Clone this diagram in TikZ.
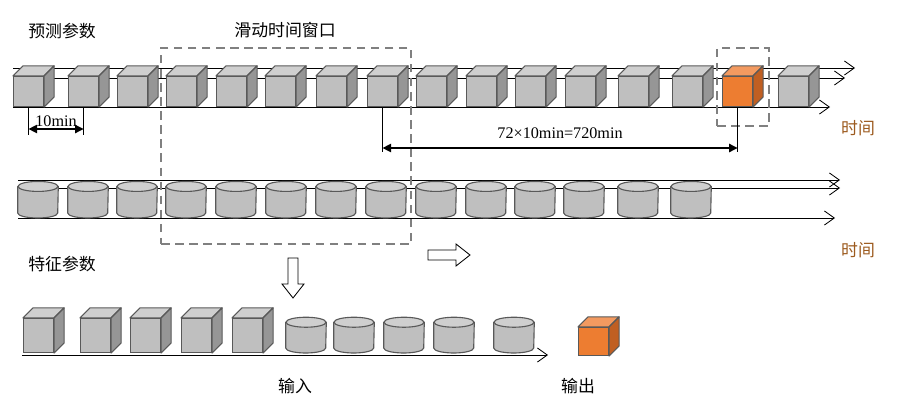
\documentclass[tikz,border=0pt]{standalone}
\usepackage{fontspec}
\setmainfont{Liberation Serif}
\newfontfamily\cjk{Noto Sans CJK SC}
\usetikzlibrary{positioning,arrows.meta,calc}
\definecolor{boxgray}{HTML}{BFBFBF}
\definecolor{boxside}{HTML}{969696}
\definecolor{boxtop}{HTML}{CFCFCF}
\definecolor{boxedge}{HTML}{595959}
\definecolor{outorange}{HTML}{ED7D31}
\definecolor{outside}{HTML}{C05F22}
\definecolor{outtop}{HTML}{F39A60}
\definecolor{timebrown}{HTML}{9C5A1E}

% cube: name, left x, bottom y, height, front/side/top colours
\newcommand\cubeat[7]{%
  \node[cubefront, minimum height=#4, fill=#5, anchor=south west] (#1) at (#2,#3) {};
  \draw[cubeline, fill=#7] (#1.north west) -- ++(10,-10) -- ([shift={(10,-10)}]#1.north east) -- (#1.north east) -- cycle;
  \draw[cubeline, fill=#6] (#1.north east) -- ++(10,-10) -- ([shift={(10,-10)}]#1.south east) -- (#1.south east) -- cycle;
}
% drum: name, centre x, bottom y, height
\newcommand\drumat[4]{%
  \node[inner sep=0pt, minimum width=1cm, minimum height=#4, anchor=south] (#1) at (#2,#3) {};
  \draw[cubeline, fill=boxgray] ([shift={(0,5)}]#1.north west) -- ([shift={(0,-5)}]#1.south west)
    arc[start angle=180, end angle=0, x radius=20, y radius=5] -- ([shift={(0,5)}]#1.north east) -- cycle;
  \draw[cubeline, fill=boxtop] ([shift={(0,5)}]#1.north) ellipse[x radius=20, y radius=5];
}

\begin{document}
\begin{tikzpicture}[
    x=0.025cm, y=-0.025cm,
    cubefront/.style={rectangle, draw=boxedge, line width=0.8pt, minimum width=0.75cm, inner sep=0pt},
    cubeline/.style={draw=boxedge, line width=0.8pt, line join=round},
    axis/.style={-{Straight Barb[length=7pt, width=10pt]}, line width=0.6pt},
    dim/.style={{Triangle[length=6pt]}-{Triangle[length=6pt]}, line width=0.9pt},
    window/.style={draw=gray, line width=1.6pt, dash pattern=on 6pt off 4pt},
    hollow/.style={draw, line width=0.6pt, fill=white, line join=miter},
    lbl/.style={font=\cjk\fontsize{12}{14}\selectfont},
    num/.style={font=\fontsize{11.5}{13}\selectfont},
]
  \useasboundingbox (0,0) rectangle (900,402);

  % time axes of the forecast row
  \coordinate (pa) at (13,68);  \coordinate (pa') at (855,68);
  \coordinate (pb) at (13,78);  \coordinate (pb') at (845,78);
  \coordinate (pc) at (13,107); \coordinate (pc') at (830,107);
  \draw[axis] (pa) -- (pa');
  \draw[axis] (pb) -- (pb');
  \draw[axis] (pc) -- (pc');

  \foreach \x [count=\i] in {13,68,117,166,216,265,316,367,416,466,515,565,618,672,778}
    {\cubeat{c\i}{\x}{107}{0.75cm}{boxgray}{boxside}{boxtop}}
  \cubeat{cout}{722}{107}{0.75cm}{outorange}{outside}{outtop}

  % time axes of the feature row
  \coordinate (fa) at (18,180);  \coordinate (fa') at (840,180);
  \coordinate (fb) at (18,188);  \coordinate (fb') at (840,188);
  \coordinate (fc) at (18,218);  \coordinate (fc') at (835,218);
  \draw[axis] (fa) -- (fa');
  \draw[axis] (fb) -- (fb');
  \draw[axis] (fc) -- (fc');

  \foreach \x [count=\i] in {38,88,137,186,236,286,336,386,436,486,535,584,638,691}
    {\drumat{d\i}{\x}{218}{0.9cm}}

  % windows
  \node[window, minimum width=6.25cm, minimum height=4.9cm, anchor=north west] (win) at (160,47) {};
  \node[window, minimum width=1.3cm, minimum height=1.95cm, anchor=north west] (tgt) at (716,47) {};

  % spacing marks
  \coordinate (t1) at ($(c1.south)+(0,28)$);
  \coordinate (t2) at ($(c2.south)+(0,28)$);
  \draw[line width=0.9pt] (c1.south) -- (t1) (c2.south) -- (t2);
  \draw[dim] ($(t1)+(0,-6)$) -- node[num, above, inner sep=1pt] {10min} ($(t2)+(0,-6)$);

  \coordinate (h1) at ($(c8.south)+(0,45)$);
  \coordinate (h2) at ($(cout.south)+(0,45)$);
  \draw[line width=0.9pt] (c8.south) -- (h1) (cout.south) -- (h2);
  \draw[dim] ($(h1)+(0,-4)$) -- node[num, above=3pt] {72×10min=720min} ($(h2)+(0,-4)$);

  % model input row
  \coordinate (ia) at (22,355); \coordinate (ia') at (548,355);
  \draw[axis] (ia) -- (ia');
  \foreach \x [count=\i] in {23,80,130,181,232}
    {\cubeat{k\i}{\x}{353}{0.85cm}{boxgray}{boxside}{boxtop}}
  \foreach \x [count=\i] in {306,354,404,454,514}
    {\drumat{e\i}{\x}{353}{0.88cm}}
  \cubeat{kout}{578}{356}{0.7cm}{outorange}{outside}{outtop}

  % slide arrows
  \coordinate (down) at (293,258);
  \draw[hollow] (down) ++(-5,0) -- ++(0,26) -- ++(-6,0) -- ++(11,14) -- ++(11,-14) -- ++(-6,0) -- ++(0,-26) -- cycle;
  \coordinate (right) at (428,255);
  \draw[hollow] (right) ++(0,-5) -- ++(28,0) -- ++(0,-6) -- ++(14,11) -- ++(-14,11) -- ++(0,-6) -- ++(-28,0) -- cycle;

  % labels
  \node[lbl] (pred) at (62,31) {预测参数};
  \node[lbl] (slide) at (285,30) {滑动时间窗口};
  \node[lbl] (feat) at (62,264) {特征参数};
  \node[lbl, text=timebrown] (time1) at (858,128) {时间};
  \node[lbl, text=timebrown] (time2) at (858,250) {时间};
  \node[lbl] (inp) at (295,386) {输入};
  \node[lbl] (outp) at (578,386) {输出};
\end{tikzpicture}
\end{document}
